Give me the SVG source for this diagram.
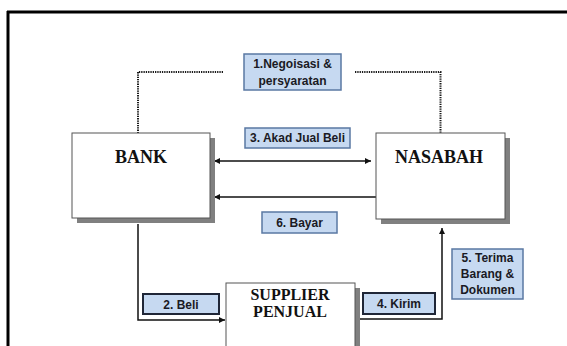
<svg xmlns="http://www.w3.org/2000/svg" width="567" height="346" viewBox="0 0 567 346">
<defs>
<style>
.node{fill:#fff;stroke:#555;stroke-width:1}
.shadow{fill:#808080}
.ntext{font-family:"Liberation Serif","Times New Roman",serif;font-weight:bold;fill:#111;text-anchor:middle}
.lbl{fill:#c6d9f1;stroke:#5a78a3;stroke-width:1.5}
.lbl2{fill:#c6d9f1;stroke:#1f2637;stroke-width:2}
.ltext{font-family:"Liberation Sans",Arial,sans-serif;font-weight:bold;font-size:12px;fill:#1a1a24;text-anchor:middle}
.dot{fill:none;stroke:#1a1a1a;stroke-width:2;stroke-dasharray:1.3 1}
.line{fill:none;stroke:#111;stroke-width:1.5}
</style>
<marker id="ah" viewBox="0 0 10 10" refX="10" refY="5" markerWidth="6" markerHeight="6" orient="auto-start-reverse" markerUnits="userSpaceOnUse">
<path d="M0,0 L10,5 L0,10 z" fill="#111"/>
</marker>
</defs>
<rect width="567" height="346" fill="#fff"/>
<g id="frame">
<line x1="7" y1="12" x2="567" y2="12" stroke="#000" stroke-width="3"/>
<line x1="8" y1="11" x2="8" y2="346" stroke="#000" stroke-width="3"/>
</g>
<g id="connectors">
<path class="dot" d="M223,72 H138 V133"/>
<path class="dot" d="M355,72 H440.5 V133"/>
<line class="line" x1="214" y1="161" x2="371" y2="161" marker-start="url(#ah)" marker-end="url(#ah)"/>
<line class="line" x1="376" y1="197" x2="214" y2="197" marker-end="url(#ah)"/>
<path class="line" d="M138,224 V320 H225" marker-end="url(#ah)"/>
<path class="line" d="M357,319 H442 V228" marker-end="url(#ah)"/>
</g>
<g id="bank">
<rect class="shadow" x="77" y="138" width="138" height="85"/>
<rect class="node" x="72" y="133" width="138" height="85"/>
<text class="ntext" x="141" y="163" font-size="18">BANK</text>
</g>
<g id="nasabah">
<rect class="shadow" x="381" y="138" width="129" height="86"/>
<rect class="node" x="376" y="133" width="129" height="86"/>
<text class="ntext" x="439" y="163" font-size="18">NASABAH</text>
</g>
<g id="supplier">
<rect class="shadow" x="231" y="288" width="129" height="70"/>
<rect class="node" x="226" y="283" width="129" height="70"/>
<text class="ntext" x="290" y="300" font-size="16">SUPPLIER</text>
<text class="ntext" x="290" y="317" font-size="16">PENJUAL</text>
</g>
<g id="label1">
<rect class="lbl" x="244" y="54" width="97" height="36"/>
<text class="ltext" x="292.5" y="68" font-size="12.5">1.Negoisasi &amp;</text>
<text class="ltext" x="292.5" y="85" font-size="12.5">persyaratan</text>
</g>
<g id="label3">
<rect class="lbl" x="245" y="128" width="105" height="20"/>
<text class="ltext" x="297.5" y="142">3. Akad Jual Beli</text>
</g>
<g id="label6">
<rect class="lbl" x="262" y="212" width="75" height="21"/>
<text class="ltext" x="299.5" y="227">6. Bayar</text>
</g>
<g id="label2">
<rect class="lbl2" x="143" y="294" width="76" height="20"/>
<text class="ltext" x="181" y="308.5">2. Beli</text>
</g>
<g id="label4">
<rect class="lbl2" x="363" y="293" width="72" height="21"/>
<text class="ltext" x="399" y="308">4. Kirim</text>
</g>
<g id="label5">
<rect class="lbl" x="452" y="249" width="71" height="50"/>
<text class="ltext" x="487.5" y="261.5">5. Terima</text>
<text class="ltext" x="487.5" y="277.5">Barang &amp;</text>
<text class="ltext" x="487.5" y="293.5">Dokumen</text>
</g>
</svg>
